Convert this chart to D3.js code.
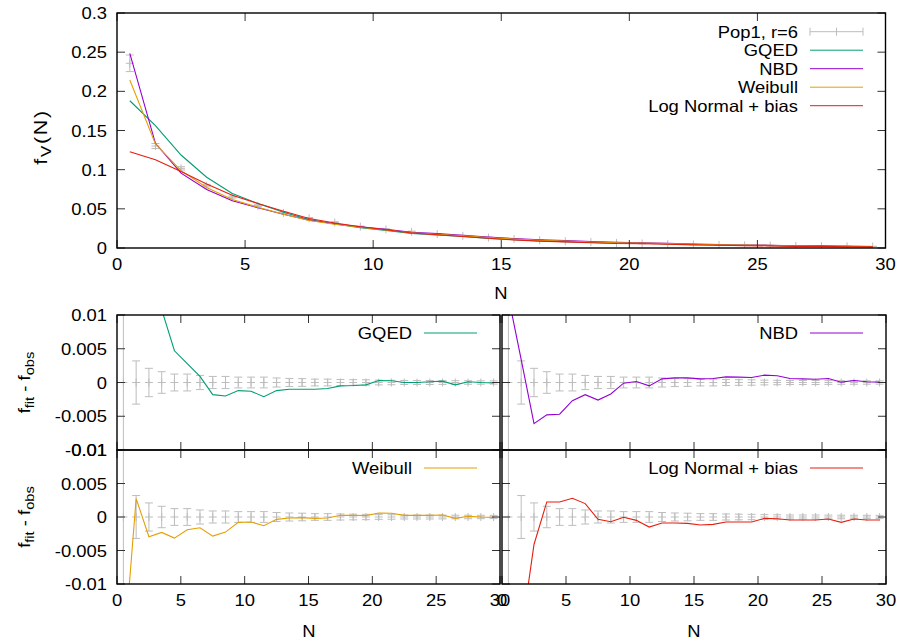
<!DOCTYPE html>
<html><head><meta charset="utf-8">
<script src="https://cdn.jsdelivr.net/npm/d3@7"></script>
<style>
body{margin:0;background:#fff}
svg{display:block}
text{font-family:"Liberation Sans",Arial,sans-serif;font-size:16.3px;fill:#000}
</style>
</head><body>
<svg id="c" width="898" height="642"></svg>
<script>
// ---------------- data ----------------
const N = [0.5,1.5,2.5,3.5,4.5,5.5,6.5,7.5,8.5,9.5,10.5,11.5,12.5,13.5,14.5,15.5,16.5,17.5,18.5,19.5,20.5,21.5,22.5,23.5,24.5,25.5,26.5,27.5,28.5,29.5];
const obs = [0.2358,0.1302,0.1017,0.0796,0.0650,0.0540,0.0448,0.0380,0.0326,0.0272,0.0238,0.0207,0.0178,0.0156,0.0133,0.0115,0.0099,0.0086,0.0075,0.0065,0.0057,0.0050,0.0044,0.0039,0.0034,0.0030,0.0027,0.0024,0.0021,0.0019];
const err = [0.0106,0.0032,0.0021,0.0016,0.00125,0.00125,0.00105,0.0009,0.0009,0.0008,0.0008,0.0008,0.00067,0.0006,0.00057,0.0005,0.0005,0.00045,0.00042,0.0004,0.00035,0.00033,0.0003,0.0003,0.0003,0.00028,0.00027,0.00026,0.00025,0.00024];
// residuals f_fit - f_obs for each model
const resGQED = [-0.0478,0.026,0.017,0.0108,0.0047,0.0028,0.0009,-0.0018,-0.002,-0.0012,-0.0013,-0.0021,-0.0012,-0.001,-0.001,-0.001,-0.0009,-0.0005,-0.00045,-0.00035,0.0003,0.00025,0,0,0.0001,0.0002,-0.00035,0.0001,0,-0.00005];
const resNBD = [0.0127,0.0034,-0.0061,-0.0048,-0.0047,-0.0027,-0.0018,-0.0026,-0.0017,-0.0001,0.00015,-0.0005,0.00054,0.00069,0.00069,0.00054,0.00059,0.00084,0.00079,0.00074,0.00109,0.00099,0.00059,0.00054,0.00049,0.00059,0.00005,0.0003,0.0001,0.00005];
const resWeibull = [-0.0213,0.00275,-0.00295,-0.0023,-0.00315,-0.0019,-0.0016,-0.00285,-0.00225,-0.0008,-0.00075,-0.0013,-0.00035,-0.00015,-0.0001,-0.0002,-0.00015,0.00025,0.00025,0.0002,0.0006,0.00055,0.00025,0.00025,0.00025,0.0003,-0.0002,0.0001,0,-0.00005];
const resLogN = [-0.1128,-0.0175,-0.0041,0.00225,0.00225,0.0028,0.002,-0.00035,-0.0007,-0.00005,-0.0005,-0.0015,-0.0009,-0.0009,-0.00095,-0.0012,-0.0011,-0.00075,-0.00075,-0.00075,-0.0002,-0.00025,-0.00045,-0.00045,-0.00045,-0.0003,-0.0008,-0.0003,-0.00045,-0.00045];
const modelNames = ["GQED","NBD","Weibull","Log Normal + bias"];
const modelColors = ["#009e73","#9400d3","#e69f00","#e51e10"];
const obsLabel = "Pop1, r=6";
const xTicks = [0,5,10,15,20,25,30];
const yTicksTop = [0,0.05,0.1,0.15,0.2,0.25,0.3];
const yTickLabelsTop = ["0","0.05","0.1","0.15","0.2","0.25","0.3"];
const yTicksRes = [-0.01,-0.005,0,0.005,0.01];
const yTickLabelsRes = ["-0.01","-0.005","0","0.005","0.01"];

// ---------------- setup ----------------
const SX = 1.13;
const GRAY = "#bdbdbd";
const svg = d3.select("#c");
const defs = svg.append("defs");
let clipId = 0;

function txt(g, x, y, str, anchor, rot, subSize) {
  const t = g.append("text")
    .attr("transform", `translate(${x},${y})` + (rot ? ` rotate(${rot})` : "") + ` scale(${SX},1)`)
    .attr("text-anchor", anchor || "start");
  if (Array.isArray(str)) {
    str.forEach(p => {
      const ts = t.append("tspan").text(p.t);
      if (p.sub) ts.attr("font-size", (subSize || 13) + "px").attr("dy", 4);
      else if (p.back) ts.attr("dy", -4);
    });
  } else t.text(str);
  return t;
}

const models = modelNames.map((name, i) => ({
  name, color: modelColors[i],
  res: [resGQED, resNBD, resWeibull, resLogN][i]
}));
models.forEach(m => { m.fit = obs.map((o, i) => o + m.res[i]); });

function makePanel(x0, x1, y0, y1, yDomain) {
  const x = d3.scaleLinear().domain([0, 30]).range([x0, x1]);
  const y = d3.scaleLinear().domain(yDomain).range([y1, y0]);
  const id = "clip" + (clipId++);
  defs.append("clipPath").attr("id", id).append("rect")
    .attr("x", x0).attr("y", y0).attr("width", x1 - x0).attr("height", y1 - y0);
  const g = svg.append("g");
  const data = g.append("g").attr("clip-path", `url(#${id})`);
  return {x, y, g, data, x0, x1, y0, y1};
}

function drawFrame(p, yTicks, yLabels, showY, showX) {
  const g = p.g.append("g");
  const tk = 8;
  xTicks.forEach(v => {
    const xx = p.x(v);
    g.append("line").attr("x1", xx).attr("x2", xx).attr("y1", p.y1).attr("y2", p.y1 - tk).attr("stroke", "#333");
    g.append("line").attr("x1", xx).attr("x2", xx).attr("y1", p.y0).attr("y2", p.y0 + tk).attr("stroke", "#333");
  });
  yTicks.forEach(v => {
    const yy = p.y(v);
    g.append("line").attr("x1", p.x0).attr("x2", p.x0 + tk).attr("y1", yy).attr("y2", yy).attr("stroke", "#333");
    g.append("line").attr("x1", p.x1).attr("x2", p.x1 - tk).attr("y1", yy).attr("y2", yy).attr("stroke", "#333");
  });
  g.append("rect").attr("x", p.x0).attr("y", p.y0).attr("width", p.x1 - p.x0).attr("height", p.y1 - p.y0)
    .attr("fill", "none").attr("stroke", "#000").attr("stroke-width", 1.4);
  if (showY) yTicks.forEach((v, i) => txt(g, p.x0 - 10, p.y(v) + 6, yLabels[i], "end"));
  if (showX) xTicks.forEach(v => txt(g, p.x(v), p.y1 + 22, String(v), "middle"));
}

function errBars(p, ys) {
  const g = p.data.append("g").attr("stroke", GRAY).attr("stroke-width", 1);
  const c = 4;
  N.forEach((n, i) => {
    const xx = p.x(n), yc = p.y(ys[i]), yt = p.y(ys[i] + err[i]), yb = p.y(ys[i] - err[i]);
    g.append("line").attr("x1", xx).attr("x2", xx).attr("y1", yt).attr("y2", yb);
    g.append("line").attr("x1", xx - c).attr("x2", xx + c).attr("y1", yt).attr("y2", yt);
    g.append("line").attr("x1", xx - c).attr("x2", xx + c).attr("y1", yb).attr("y2", yb);
    g.append("line").attr("x1", xx - 4).attr("x2", xx + 4).attr("y1", yc).attr("y2", yc);
    g.append("line").attr("x1", xx).attr("x2", xx).attr("y1", yc - 4).attr("y2", yc + 4);
  });
}

// gnuplot default: segments with both ends out of range are not drawn
function runs(ys, lo, hi) {
  const inR = ys.map(v => v >= lo && v <= hi);
  const out = []; let cur = null;
  for (let i = 0; i < ys.length - 1; i++) {
    if (inR[i] || inR[i + 1]) {
      if (!cur) { cur = [[N[i], ys[i]]]; out.push(cur); }
      cur.push([N[i + 1], ys[i + 1]]);
    } else cur = null;
  }
  return out;
}

function legendLine(g, xr, y, name, color) {
  txt(g, xr, y + 6, name, "end");
  g.append("line").attr("x1", xr + 12).attr("x2", xr + 65).attr("y1", y).attr("y2", y)
    .attr("stroke", color).attr("stroke-width", 1);
}

// ---------------- top panel ----------------
const topP = makePanel(117, 885.5, 13, 248, [0, 0.3]);
errBars(topP, obs);
models.forEach(m => {
  const line = d3.line().x(d => topP.x(d[0])).y(d => topP.y(d[1]));
  topP.data.append("path").attr("d", line(N.map((n, i) => [n, m.fit[i]])))
    .attr("fill", "none").attr("stroke", m.color).attr("stroke-width", 1.1);
});
drawFrame(topP, yTicksTop, yTickLabelsTop, true, true);
txt(svg, 501, 299, "N", "middle");
txt(svg, 47, 137, [{t:"f"},{t:"V",sub:true},{t:"(N)",back:true}], "middle", -90, 15)
  .style("font-size", "19px").style("letter-spacing", "1.5px");
// top legend
{
  const g = svg.append("g");
  const xr = 798;
  const ys = [31.7, 50.2, 68.7, 87.2, 105.7];
  txt(g, xr, ys[0] + 6, obsLabel, "end");
  const lg = g.append("g").attr("stroke", GRAY);
  lg.append("line").attr("x1", xr + 12).attr("x2", xr + 65).attr("y1", ys[0]).attr("y2", ys[0]);
  [xr + 12, xr + 38.5, xr + 65].forEach(xx =>
    lg.append("line").attr("x1", xx).attr("x2", xx).attr("y1", ys[0] - 4).attr("y2", ys[0] + 4));
  models.forEach((m, i) => legendLine(g, xr, ys[i + 1], m.name, m.color));
}

// ---------------- residual panels ----------------
const panels = [
  makePanel(117, 500, 315, 450, [-0.01, 0.01]),
  makePanel(502, 886, 315, 450, [-0.01, 0.01]),
  makePanel(117, 500, 450, 584, [-0.01, 0.01]),
  makePanel(502, 886, 450, 584, [-0.01, 0.01])
];
panels.forEach((p, k) => {
  const m = models[k];
  errBars(p, N.map(() => 0));
  const line = d3.line().x(d => p.x(d[0])).y(d => p.y(d[1]));
  runs(m.res, -0.01, 0.01).forEach(r => {
    p.data.append("path").attr("d", line(r)).attr("fill", "none")
      .attr("stroke", m.color).attr("stroke-width", 1.1);
  });
  drawFrame(p, yTicksRes, yTickLabelsRes, k % 2 === 0, k >= 2);
  legendLine(p.g, p.x1 - 88, k < 2 ? 333 : 468, m.name, m.color);
});
txt(svg, 309, 637, "N", "middle");
txt(svg, 694, 637, "N", "middle");
[382.5, 517].forEach(cy =>
  txt(svg, 30, cy, [{t:"f"},{t:"fit",sub:true},{t:" - f",back:true},{t:"obs",sub:true}], "middle", -90));
</script>
</body></html>
